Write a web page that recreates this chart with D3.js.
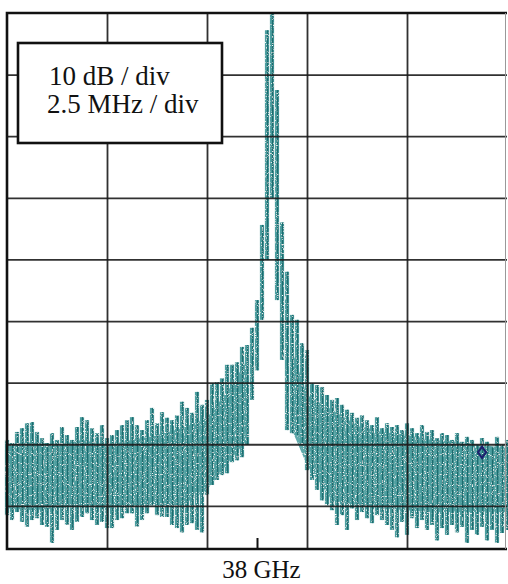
<!DOCTYPE html>
<html>
<head>
<meta charset="utf-8">
<script src="https://cdnjs.cloudflare.com/ajax/libs/d3/7.8.5/d3.min.js"></script>
<style>
  body { margin: 0; background: #fff; }
  svg { display: block; }
  .lbl { font-family: "Liberation Serif", "Times New Roman", serif; fill: #111; }
</style>
</head>
<body>
<div id="viz"></div>
<script>
// frequency offset from 38 GHz in MHz (2.5 MHz / div), level in dB (10 dB / div)
var freqs = [];
for (var k = 0; k <= 100; k++) freqs.push(-6.25 + k * 0.125);

// upper edge of the trace in each column (dB)
var hiDb = [
  -69.3,-69.8,-68.0,-67.4,-66.6,-66.4,-68.0,-69.0,-69.8,-68.2,
  -69.3,-67.2,-68.5,-69.3,-67.2,-65.6,-66.1,-67.4,-68.2,-66.9,
  -69.0,-68.5,-67.7,-66.9,-66.1,-65.6,-66.9,-67.7,-66.1,-64.1,
  -66.6,-64.8,-65.7,-66.1,-65.3,-63.1,-64.1,-64.9,-61.5,-63.6,
  -62.8,-60.1,-59.9,-59.3,-57.1,-57.1,-56.7,-54.2,-53.9,-51.1,
  -46.6,-34.4,-2.8,0,-12.5,-34.0,-42.0,-49.0,-49.8,-53.6,
  -54.7,-60.1,-60.4,-60.7,-62.0,-62.8,-62.5,-63.6,-64.4,-64.9,
  -65.7,-65.3,-66.1,-66.9,-65.6,-67.4,-66.6,-67.2,-66.9,-67.7,
  -66.6,-67.4,-68.2,-66.9,-68.0,-67.7,-69.0,-68.2,-68.5,-69.3,
  -68.2,-69.6,-68.8,-69.3,-70.1,-69.0,-69.6,-70.5,-68.8,-70.1,
  -69.3
];
// lower edge of the trace in each column (dB)
var loDb = [
  -81.5,-82.3,-81.0,-82.6,-83.4,-82.3,-82.0,-83.1,-83.4,-86.0,
  -83.9,-82.3,-83.1,-83.9,-82.6,-81.8,-81.2,-82.3,-83.1,-82.6,
  -83.6,-83.6,-82.3,-82.0,-81.2,-81.2,-83.4,-82.3,-81.2,-79.9,
  -81.5,-81.8,-81.8,-83.1,-83.6,-84.3,-83.1,-82.8,-83.9,-84.3,
  -78.2,-76.6,-75.8,-75.0,-74.7,-72.9,-72.6,-72.1,-70.1,-62.8,
  -58.0,-49.8,-40.1,-30.0,-46.6,-56.3,-67.7,-68.2,-68.5,-70.1,
  -74.2,-75.8,-77.4,-79.1,-79.9,-80.7,-83.1,-81.5,-83.9,-80.4,
  -82.3,-81.0,-82.0,-82.8,-81.5,-82.3,-83.1,-83.9,-85.1,-82.6,
  -84.7,-82.0,-83.6,-82.3,-83.9,-83.1,-85.6,-83.6,-84.7,-83.1,
  -84.3,-83.4,-86.0,-83.9,-84.7,-83.4,-85.6,-83.9,-86.0,-84.4,
  -83.9
];

// dense core of the noise band (dB); NaN where there is no core
var bodyFreq = [-6.25,-5.625,-5.0,-4.375,-3.75,-3.125,-2.5,-1.875,-1.25,-0.625,-0.25,
                0.2,
                0.875,1.25,1.875,2.5,3.125,3.75,4.375,5.0,5.625,6.25];
var bodyHi = [-70.1,-69.6,-70.1,-69.3,-70.1,-69.3,-68.5,-67.4,-65.7,-60.4,-56.3,
              NaN,
              -54.7,-62.0,-64.4,-66.9,-68.0,-68.5,-69.3,-69.6,-70.1,-70.6];
var bodyLo = [-80.4,-80.7,-80.4,-80.0,-80.4,-79.9,-79.9,-79.9,-77.4,-72.2,-69.3,
              NaN,
              -67.7,-73.4,-79.1,-79.9,-80.4,-80.7,-81.0,-81.0,-81.0,-81.0];

var gridFreq = [-3.75, -1.25, 1.25, 3.75];
var gridDb = [-10, -20, -30, -40, -50, -60, -70, -80];
var markerF = 5.625, markerDb = -71.3;

var W = 508, H = 584;
var x = d3.scaleLinear().domain([-6.25, 6.25]).range([7, 507]);
var y = d3.scaleLinear().domain([-87, 0]).range([549, 13]);

var svg = d3.select("#viz").append("svg").attr("width", W).attr("height", H);

var defs = svg.append("defs");
var f = defs.append("filter").attr("id", "speckle")
  .attr("filterUnits", "userSpaceOnUse").attr("x", 0).attr("y", 0).attr("width", W).attr("height", H);
f.append("feTurbulence").attr("type", "fractalNoise").attr("baseFrequency", 0.9)
  .attr("numOctaves", 1).attr("seed", 4).attr("result", "n");
f.append("feColorMatrix").attr("in", "n").attr("type", "matrix")
  .attr("values", "0 0 0 0 1  0 0 0 0 1  0 0 0 0 1  0 0 0 5 -2.9").attr("result", "m");
f.append("feComposite").attr("in", "m").attr("in2", "SourceGraphic").attr("operator", "in").attr("result", "s");
var mg = f.append("feMerge");
mg.append("feMergeNode").attr("in", "SourceGraphic");
mg.append("feMergeNode").attr("in", "s");

// trace
var trace = svg.append("g").attr("filter", "url(#speckle)");

var body = d3.area()
  .defined(function(d, i) { return !isNaN(bodyHi[i]); })
  .x(function(d) { return x(d); })
  .y0(function(d, i) { return y(bodyLo[i]); })
  .y1(function(d, i) { return y(bodyHi[i]); });
trace.append("path").datum(bodyFreq).attr("d", body).attr("fill", "#5fa9aa");

var colW = x(0.125) - x(0) - 0.8;
trace.selectAll("rect.col").data(freqs).enter().append("rect")
  .attr("class", "col")
  .attr("x", function(d) { return x(d) - colW / 2; })
  .attr("width", colW)
  .attr("y", function(d, i) { return y(hiDb[i]); })
  .attr("height", function(d, i) { return y(loDb[i]) - y(hiDb[i]); })
  .attr("fill", "#4d9fa0");

trace.selectAll("line.stk").data(freqs).enter().append("line")
  .attr("class", "stk")
  .attr("x1", function(d) { return x(d) + 0.6; })
  .attr("x2", function(d) { return x(d) + 0.6; })
  .attr("y1", function(d, i) { return y(hiDb[i]); })
  .attr("y2", function(d, i) { return y(loDb[i]); })
  .attr("stroke", "#1d6c6e").attr("stroke-width", 1.4);

// grid
var gx = svg.append("g").attr("transform", "translate(0," + y(-87) + ")")
  .call(d3.axisBottom(x).tickValues(gridFreq).tickSize(-(y(-87) - y(0))).tickFormat(""));
var gy = svg.append("g").attr("transform", "translate(" + x(-6.25) + ",0)")
  .call(d3.axisLeft(y).tickValues(gridDb).tickSize(-(x(6.25) - x(-6.25))).tickFormat(""));
[gx, gy].forEach(function(g) {
  g.select(".domain").remove();
  g.selectAll(".tick line").attr("stroke", "#1b1b1b").attr("stroke-width", 1.8).attr("stroke-opacity", 0.9);
});

// frame
svg.append("path")
  .attr("d", "M" + x(6.25) + "," + y(0) + "H" + x(-6.25) + "V" + y(-87) + "H" + x(6.25))
  .attr("fill", "none").attr("stroke", "#111").attr("stroke-width", 2.6);
svg.append("line").attr("x1", x(6.25) - 1.5).attr("x2", x(6.25) - 1.5)
  .attr("y1", y(0)).attr("y2", y(-87)).attr("stroke", "#999").attr("stroke-width", 1);

// centre marker and label
var cx = svg.append("g").attr("transform", "translate(0," + y(-87) + ")")
  .call(d3.axisBottom(x).tickValues([0]).tickSize(-11).tickPadding(11)
    .tickFormat(function() { return "38 GHz"; }));
cx.select(".domain").remove();
cx.selectAll(".tick line").attr("stroke", "#111").attr("stroke-width", 2);
cx.selectAll(".tick text").attr("class", "lbl").attr("font-size", 25).attr("dx", 4).attr("fill", "#111");

// marker diamond
svg.append("path")
  .attr("d", d3.symbol().type(d3.symbolDiamond).size(36)())
  .attr("transform", "translate(" + x(markerF) + "," + y(markerDb) + ") scale(1.25,1)")
  .attr("fill", "none").attr("stroke", "#1c1f6e").attr("stroke-width", 1.8);

// legend box
svg.append("rect").attr("x", 18).attr("y", 43).attr("width", 204).attr("height", 100)
  .attr("fill", "#fff").attr("stroke", "#111").attr("stroke-width", 2.6);
svg.append("text").attr("class", "lbl").attr("x", 49).attr("y", 85).attr("font-size", 27).text("10 dB / div");
svg.append("text").attr("class", "lbl").attr("x", 47).attr("y", 113).attr("font-size", 27).text("2.5 MHz / div");
</script>
</body>
</html>
